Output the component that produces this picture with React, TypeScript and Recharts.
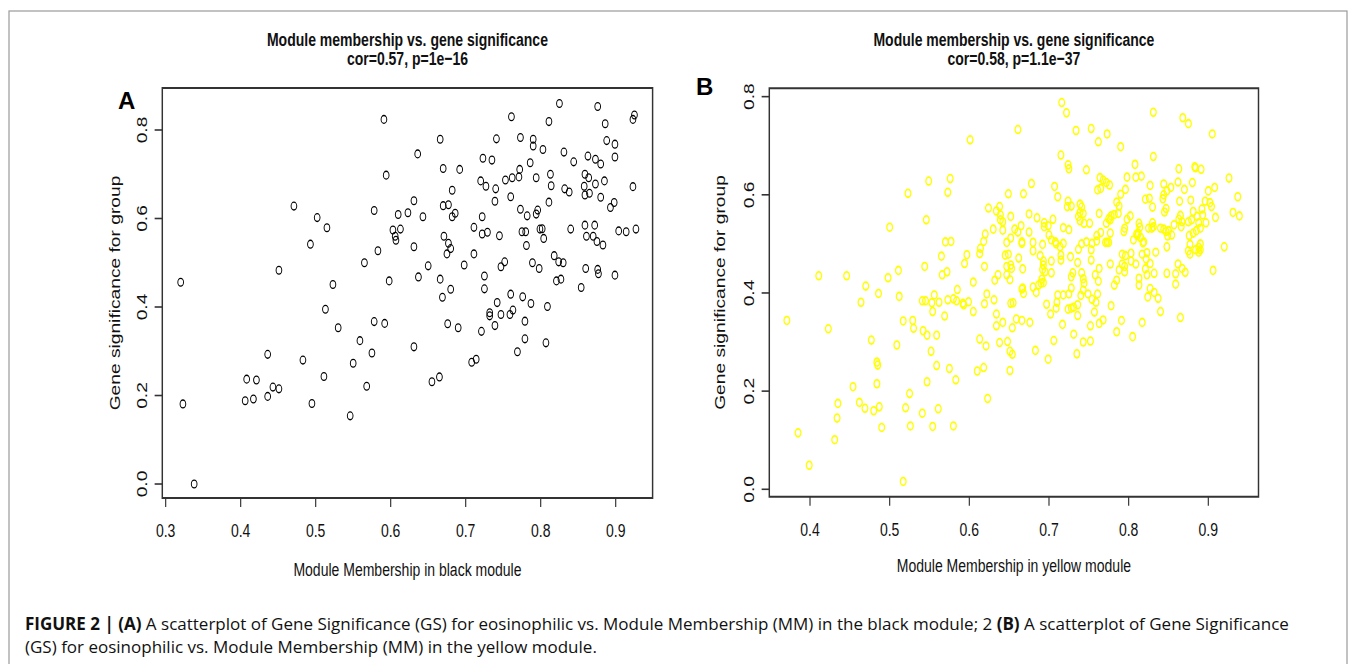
import React from "react";
import { ScatterChart, Scatter, XAxis, YAxis, ReferenceArea } from "recharts";

// the R panels were squeezed sideways when the figure was assembled
const SQ = 0.73;

const xTicksBlack = [0.3, 0.4, 0.5, 0.6, 0.7, 0.8, 0.9];
const xTicksYellow = [0.4, 0.5, 0.6, 0.7, 0.8, 0.9];
const yTicks = [0, 0.2, 0.4, 0.6, 0.8];

// panel A: module membership (black) / gene significance
const blackMM = [
  0.591, 0.594, 0.471, 0.502, 0.515, 0.493, 0.578, 0.583, 0.565, 0.451, 0.32, 0.523,
  0.825, 0.876, 0.761, 0.811, 0.886, 0.923, 0.925, 0.666, 0.741, 0.773, 0.79, 0.79,
  0.803, 0.888, 0.899, 0.636, 0.831, 0.844, 0.863, 0.873, 0.88, 0.899, 0.723, 0.735,
  0.67, 0.692, 0.786, 0.772, 0.72, 0.727, 0.74, 0.753, 0.762, 0.771, 0.794, 0.813,
  0.814, 0.859, 0.864, 0.858, 0.873, 0.885, 0.832, 0.838, 0.859, 0.865, 0.88, 0.923,
  0.682, 0.631, 0.67, 0.677, 0.739, 0.76, 0.811, 0.61, 0.623, 0.643, 0.682, 0.686,
  0.722, 0.773, 0.782, 0.794, 0.796, 0.84, 0.859, 0.872, 0.898, 0.893, 0.904, 0.914,
  0.927, 0.603, 0.606, 0.607, 0.613, 0.671, 0.677, 0.68, 0.675, 0.711, 0.722, 0.729,
  0.745, 0.775, 0.78, 0.799, 0.802, 0.804, 0.861, 0.87, 0.875, 0.883, 0.631, 0.781,
  0.711, 0.818, 0.824, 0.83, 0.65, 0.698, 0.747, 0.752, 0.789, 0.798, 0.86, 0.876,
  0.877, 0.899, 0.598, 0.637, 0.666, 0.725, 0.821, 0.827, 0.854, 0.68, 0.669, 0.725,
  0.742, 0.76, 0.776, 0.787, 0.809, 0.732, 0.732, 0.747, 0.759, 0.763, 0.779, 0.739,
  0.721, 0.592, 0.676, 0.69, 0.779, 0.807, 0.769, 0.631, 0.708, 0.714, 0.655, 0.665,
  0.513, 0.53, 0.578, 0.559, 0.575, 0.55, 0.568, 0.546, 0.511, 0.495, 0.483, 0.436,
  0.408, 0.421, 0.443, 0.451, 0.406, 0.417, 0.436, 0.323, 0.338,
];
const blackGS = [
  0.824, 0.698, 0.628, 0.602, 0.579, 0.542, 0.618, 0.527, 0.5, 0.483, 0.456, 0.451,
  0.86, 0.853, 0.83, 0.819, 0.814, 0.824, 0.834, 0.779, 0.78, 0.783, 0.779, 0.764,
  0.756, 0.776, 0.768, 0.746, 0.75, 0.728, 0.741, 0.734, 0.723, 0.739, 0.736, 0.732,
  0.713, 0.711, 0.726, 0.711, 0.685, 0.673, 0.667, 0.687, 0.692, 0.694, 0.692, 0.7,
  0.674, 0.7, 0.692, 0.673, 0.678, 0.685, 0.667, 0.66, 0.653, 0.657, 0.648, 0.672,
  0.664, 0.64, 0.629, 0.631, 0.639, 0.649, 0.637, 0.609, 0.613, 0.604, 0.604, 0.612,
  0.604, 0.621, 0.606, 0.61, 0.619, 0.576, 0.585, 0.585, 0.636, 0.625, 0.572, 0.57,
  0.576, 0.574, 0.56, 0.551, 0.576, 0.56, 0.544, 0.532, 0.52, 0.58, 0.565, 0.569,
  0.561, 0.57, 0.57, 0.576, 0.577, 0.555, 0.56, 0.56, 0.548, 0.54, 0.536, 0.539,
  0.52, 0.516, 0.502, 0.5, 0.493, 0.495, 0.491, 0.502, 0.5, 0.487, 0.487, 0.485,
  0.475, 0.472, 0.459, 0.468, 0.463, 0.47, 0.459, 0.463, 0.444, 0.44, 0.422, 0.441,
  0.41, 0.429, 0.423, 0.408, 0.401, 0.387, 0.38, 0.383, 0.383, 0.393, 0.368, 0.358,
  0.345, 0.363, 0.362, 0.353, 0.328, 0.319, 0.299, 0.31, 0.275, 0.282, 0.231, 0.242,
  0.395, 0.353, 0.367, 0.324, 0.296, 0.273, 0.221, 0.154, 0.243, 0.182, 0.28, 0.293,
  0.237, 0.235, 0.219, 0.215, 0.188, 0.192, 0.198, 0.181, 0.0,
];

// panel B: module membership (yellow) / gene significance
const yellowMM = [
  0.601, 0.523, 0.549, 0.576, 0.573, 0.5, 0.546, 0.624, 0.634, 0.638, 0.639, 0.63,
  0.57, 0.577, 0.62, 0.618, 0.614, 0.613, 0.565, 0.597, 0.594, 0.619, 0.544, 0.511,
  0.566, 0.572, 0.411, 0.446, 0.498, 0.47, 0.605, 0.632, 0.636, 0.585,
  0.486, 0.512, 0.464, 0.541, 0.545, 0.553, 0.556, 0.562, 0.554, 0.573, 0.58, 0.584,
  0.592, 0.593, 0.599, 0.569, 0.605, 0.619, 0.622, 0.631, 0.634, 0.634, 0.638, 0.371,
  0.423, 0.517, 0.529, 0.53, 0.542, 0.547, 0.559, 0.477, 0.509, 0.552, 0.613, 0.621,
  0.484, 0.485, 0.559, 0.575, 0.61, 0.618, 0.583, 0.547, 0.484, 0.454, 0.525, 0.623,
  0.435, 0.462, 0.469, 0.48, 0.487, 0.52, 0.561, 0.541, 0.434, 0.385, 0.431, 0.49,
  0.526, 0.554, 0.58, 0.399, 0.517,
  0.716, 0.722, 0.661, 0.734, 0.753, 0.773, 0.762, 0.831, 0.868, 0.875, 0.905, 0.79,
  0.715, 0.831, 0.724, 0.725, 0.747, 0.808, 0.863, 0.883, 0.884, 0.891, 0.926, 0.798,
  0.809, 0.816, 0.764, 0.768, 0.772, 0.776, 0.761, 0.765, 0.678, 0.707, 0.711, 0.649,
  0.668, 0.827, 0.844, 0.848, 0.853, 0.844, 0.843, 0.862, 0.88, 0.87, 0.9, 0.908,
  0.937, 0.796, 0.79, 0.821, 0.826, 0.724, 0.723, 0.728, 0.739, 0.741, 0.739, 0.785,
  0.788, 0.83, 0.847, 0.845, 0.864, 0.878, 0.896, 0.902, 0.904, 0.892, 0.881, 0.639,
  0.652, 0.675, 0.685, 0.705, 0.737, 0.743, 0.739, 0.744, 0.763, 0.778, 0.782, 0.787,
  0.775, 0.777, 0.772, 0.798, 0.802, 0.865, 0.863, 0.867, 0.866, 0.875, 0.879, 0.886,
  0.888, 0.893, 0.897, 0.89, 0.885, 0.909, 0.931, 0.939, 0.642, 0.642, 0.657, 0.661,
  0.665, 0.675, 0.694, 0.694, 0.699, 0.718, 0.725, 0.751, 0.777, 0.794, 0.795, 0.813,
  0.814, 0.812, 0.811, 0.83, 0.831, 0.825, 0.829, 0.84, 0.844, 0.847, 0.849, 0.85,
  0.854, 0.857, 0.876, 0.881, 0.647, 0.652, 0.666, 0.666, 0.68, 0.692, 0.7, 0.703,
  0.708, 0.709, 0.714, 0.718, 0.741, 0.747, 0.754, 0.76, 0.76, 0.765, 0.771, 0.773,
  0.775, 0.806, 0.81, 0.815, 0.819, 0.818, 0.848, 0.877, 0.89, 0.888, 0.92, 0.645,
  0.649, 0.662, 0.68, 0.689, 0.693, 0.693, 0.703, 0.715, 0.715, 0.727, 0.737, 0.753,
  0.753, 0.736, 0.792, 0.796, 0.803, 0.834, 0.817, 0.823, 0.822, 0.875, 0.877, 0.884,
  0.888, 0.89, 0.809, 0.803, 0.827, 0.777, 0.792, 0.795, 0.788, 0.795, 0.647, 0.652,
  0.653, 0.647, 0.651, 0.667, 0.692, 0.695, 0.703, 0.73, 0.728, 0.741, 0.743, 0.744,
  0.763, 0.758, 0.762, 0.821, 0.823, 0.832, 0.848, 0.859, 0.862, 0.867, 0.871, 0.906,
  0.813, 0.813, 0.785, 0.782, 0.859, 0.691, 0.693, 0.69, 0.667, 0.68, 0.687,
  0.666, 0.668, 0.684, 0.711, 0.718, 0.725, 0.728, 0.652, 0.655, 0.697, 0.71, 0.709,
  0.724, 0.728, 0.731, 0.736, 0.736, 0.74, 0.743, 0.749, 0.754, 0.759, 0.761, 0.757,
  0.778, 0.642, 0.654, 0.659, 0.666, 0.676, 0.702, 0.717, 0.752, 0.763, 0.768, 0.791,
  0.785, 0.731, 0.805, 0.817, 0.824, 0.827, 0.832, 0.837, 0.84, 0.865, 0.648, 0.651,
  0.654, 0.651, 0.683, 0.699, 0.706, 0.735, 0.743, 0.752,
];
const yellowGS = [
  0.712, 0.603, 0.628, 0.633, 0.605, 0.534, 0.549, 0.573, 0.567, 0.576, 0.549, 0.53,
  0.504, 0.505, 0.52, 0.505, 0.491, 0.48, 0.475, 0.478, 0.46, 0.454, 0.454, 0.446,
  0.437, 0.443, 0.435, 0.435, 0.431, 0.414, 0.422, 0.426, 0.437, 0.407,
  0.399, 0.393, 0.381, 0.384, 0.384, 0.38, 0.396, 0.381, 0.362, 0.386, 0.388, 0.384,
  0.379, 0.376, 0.382, 0.353, 0.362, 0.378, 0.398, 0.386, 0.357, 0.333, 0.299, 0.344,
  0.327, 0.343, 0.344, 0.328, 0.323, 0.314, 0.314, 0.304, 0.294, 0.281, 0.306, 0.292,
  0.259, 0.253, 0.252, 0.246, 0.241, 0.248, 0.223, 0.219, 0.215, 0.209, 0.195, 0.185,
  0.175, 0.177, 0.165, 0.16, 0.168, 0.166, 0.164, 0.155, 0.145, 0.115, 0.101, 0.126,
  0.129, 0.128, 0.129, 0.049, 0.016,
  0.788, 0.767, 0.733, 0.731, 0.735, 0.724, 0.708, 0.768, 0.757, 0.745, 0.724, 0.698,
  0.681, 0.678, 0.661, 0.653, 0.651, 0.662, 0.653, 0.657, 0.655, 0.652, 0.634, 0.636,
  0.636, 0.638, 0.635, 0.63, 0.625, 0.62, 0.61, 0.613, 0.623, 0.617, 0.596, 0.602,
  0.602, 0.619, 0.622, 0.608, 0.615, 0.6, 0.592, 0.626, 0.625, 0.611, 0.608, 0.615,
  0.596, 0.611, 0.601, 0.591, 0.593, 0.587, 0.576, 0.577, 0.581, 0.575, 0.564, 0.585,
  0.577, 0.575, 0.572, 0.565, 0.587, 0.589, 0.587, 0.584, 0.576, 0.571, 0.566, 0.559,
  0.556, 0.561, 0.553, 0.55, 0.556, 0.562, 0.547, 0.542, 0.562, 0.557, 0.56, 0.562,
  0.551, 0.549, 0.542, 0.55, 0.557, 0.558, 0.55, 0.545, 0.535, 0.545, 0.549, 0.556,
  0.543, 0.559, 0.543, 0.532, 0.527, 0.554, 0.564, 0.557, 0.545, 0.528, 0.53, 0.524,
  0.537, 0.524, 0.543, 0.535, 0.537, 0.533, 0.529, 0.542, 0.522, 0.525, 0.532, 0.542,
  0.534, 0.522, 0.517, 0.543, 0.535, 0.532, 0.532, 0.532, 0.53, 0.525, 0.516, 0.527,
  0.518, 0.539, 0.517, 0.522, 0.503, 0.512, 0.504, 0.501, 0.503, 0.499, 0.518, 0.508,
  0.504, 0.5, 0.494, 0.501, 0.5, 0.504, 0.501, 0.506, 0.517, 0.523, 0.503, 0.503,
  0.503, 0.508, 0.52, 0.513, 0.504, 0.502, 0.494, 0.499, 0.5, 0.493, 0.494, 0.477,
  0.479, 0.471, 0.486, 0.476, 0.465, 0.457, 0.465, 0.477, 0.467, 0.474, 0.489, 0.488,
  0.467, 0.462, 0.479, 0.476, 0.481, 0.483, 0.479, 0.482, 0.469, 0.486, 0.479, 0.488,
  0.483, 0.488, 0.459, 0.465, 0.46, 0.459, 0.459, 0.454, 0.447, 0.443, 0.454, 0.457,
  0.45, 0.437, 0.427, 0.449, 0.448, 0.443, 0.441, 0.441, 0.433, 0.441, 0.429, 0.42,
  0.45, 0.437, 0.424, 0.449, 0.437, 0.44, 0.44, 0.439, 0.459, 0.45, 0.442, 0.446,
  0.43, 0.416, 0.426, 0.416, 0.418, 0.428, 0.421, 0.42, 0.41, 0.412, 0.416,
  0.408, 0.399, 0.401, 0.396, 0.396, 0.398, 0.41, 0.379, 0.38, 0.377, 0.381, 0.369,
  0.367, 0.369, 0.371, 0.376, 0.354, 0.395, 0.406, 0.398, 0.387, 0.381, 0.398, 0.361,
  0.374, 0.34, 0.329, 0.347, 0.344, 0.34, 0.357, 0.336, 0.333, 0.338, 0.345, 0.344,
  0.321, 0.316, 0.311, 0.34, 0.392, 0.409, 0.401, 0.389, 0.362, 0.35, 0.301, 0.281,
  0.275, 0.242, 0.283, 0.265, 0.303, 0.276, 0.3, 0.302,
];

const R_FONT = "'Liberation Sans', Arial, Helvetica, sans-serif";
const R_SIZE = 19.2;

type Box = { l: number; r: number; t: number; b: number };

interface PanelProps {
  left: number; // screen px
  width: number; // screen px
  box: Box; // screen px
  xDomain: [number, number];
  yDomain: [number, number];
  xTicks: number[];
  mm: number[];
  gs: number[];
  color: string;
  strokeWidth: number;
  title: string;
  subtitle: string;
  xLabel: string;
  yLabelCenter: number; // screen x of the rotated y title
  xLabelCenter: number; // screen y of the x title
}

const H = 620;
const YW = 40;
const XH = 40;

function Panel(p: PanelProps) {
  const data = p.mm.map((x, i) => ({ x, y: p.gs[i] }));
  // screen x -> unsqueezed x inside the panel
  const ux = (sx: number) => (sx - p.left) / SQ;
  const W = p.width / SQ;
  const bl = ux(p.box.l);
  const br = ux(p.box.r);
  const cx = (bl + br) / 2;
  const cy = (p.box.t + p.box.b) / 2;
  const yTickX = bl - 21.5;
  const yTitleX = ux(p.yLabelCenter) + 5.8;
  return (
    <div
      style={{
        position: "absolute",
        left: p.left,
        top: 0,
        width: W,
        height: H,
        transform: `scaleX(${SQ})`,
        transformOrigin: "0 0",
      }}
    >
      <ScatterChart
        width={W}
        height={H}
        margin={{
          top: p.box.t,
          right: W - br,
          bottom: H - p.box.b - XH,
          left: bl - YW,
        }}
      >
        <XAxis
          type="number"
          dataKey="x"
          domain={p.xDomain}
          ticks={p.xTicks}
          allowDataOverflow
          height={XH}
          axisLine={false}
          tickSize={9}
          tickLine={{ stroke: "#333", strokeWidth: 1.6 }}
          tick={(t: any) => (
            <text
              x={t.x}
              y={p.box.b + 38.9}
              textAnchor="middle"
              fontFamily={R_FONT}
              fontSize={R_SIZE}
              fill="#111"
            >
              {Number(t.payload.value).toFixed(1)}
            </text>
          )}
        />
        <YAxis
          type="number"
          dataKey="y"
          domain={p.yDomain}
          ticks={yTicks}
          allowDataOverflow
          width={YW}
          axisLine={false}
          tickSize={10.5}
          tickLine={{ stroke: "#333", strokeWidth: 1.6 }}
          tick={(t: any) => (
            <text
              x={yTickX}
              y={t.y}
              transform={`rotate(-90 ${yTickX} ${t.y})`}
              textAnchor="middle"
              fontFamily={R_FONT}
              fontSize={R_SIZE}
              fill="#111"
            >
              {Number(t.payload.value).toFixed(1)}
            </text>
          )}
        />
        <Scatter
          data={data}
          isAnimationActive={false}
          shape={(s: any) => (
            <circle
              cx={s.cx}
              cy={s.cy}
              r={3.9}
              fill="none"
              stroke={p.color}
              strokeWidth={p.strokeWidth}
            />
          )}
        />
        <ReferenceArea
          x1={p.xDomain[0]}
          x2={p.xDomain[1]}
          y1={p.yDomain[0]}
          y2={p.yDomain[1]}
          fill="none"
          stroke="#333"
          strokeWidth={2}
          ifOverflow="visible"
        />
      </ScatterChart>
      <svg
        width={W}
        height={H}
        style={{ position: "absolute", left: 0, top: 0, pointerEvents: "none" }}
      >
        <g fontFamily={R_FONT} fill="#111" textAnchor="middle" fontSize={R_SIZE}>
          <text x={cx} y={45.9} fontWeight="bold">
            {p.title}
          </text>
          <text x={cx} y={65.2} fontWeight="bold">
            {p.subtitle}
          </text>
          <text x={cx} y={p.xLabelCenter + 5.8}>
            {p.xLabel}
          </text>
          <text x={yTitleX} y={cy} transform={`rotate(-90 ${yTitleX} ${cy})`}>
            Gene significance for group
          </text>
        </g>
      </svg>
    </div>
  );
}

const CAPTION_FONT = "'Open Sans', 'Noto Sans', sans-serif";

export default function App() {
  return (
    <div
      style={{
        position: "absolute",
        left: 0,
        top: 0,
        width: 1355,
        height: 664,
        background: "#fff",
        overflow: "hidden",
      }}
    >
      <Panel
        left={0}
        width={680}
        box={{ l: 162.3, r: 652.6, t: 88, b: 498 }}
        xDomain={[0.2955, 0.9492]}
        yDomain={[-0.0316, 0.8949]}
        xTicks={xTicksBlack}
        mm={blackMM}
        gs={blackGS}
        color="#000"
        strokeWidth={1.3}
        title="Module membership vs. gene significance"
        subtitle={"cor=0.57, p=1e\u221216"}
        xLabel="Module Membership in black module"
        yLabelCenter={116}
        xLabelCenter={570}
      />
      <Panel
        left={680}
        width={675}
        box={{ l: 769.3, r: 1258.5, t: 88.3, b: 496.7 }}
        xDomain={[0.3489, 0.963]}
        yDomain={[-0.0151, 0.817]}
        xTicks={xTicksYellow}
        mm={yellowMM}
        gs={yellowGS}
        color="#ffff00"
        strokeWidth={1.8}
        title="Module membership vs. gene significance"
        subtitle={"cor=0.58, p=1.1e\u221237"}
        xLabel="Module Membership in yellow module"
        yLabelCenter={721}
        xLabelCenter={566}
      />
      <svg
        width={1355}
        height={664}
        style={{ position: "absolute", left: 0, top: 0, pointerEvents: "none" }}
      >
        <rect x={9} y={11} width={1338} height={700} fill="none" stroke="#9a9a9a" strokeWidth={1.2} />
        <g fontFamily={R_FONT} fontWeight="bold" fontSize={24} fill="#000">
          <text x={118} y={109}>A</text>
          <text x={696} y={95}>B</text>
        </g>
        <g fontFamily={CAPTION_FONT} fontSize={17} fill="#111">
          <text x={25} y={630}>
            <tspan fontWeight="bold">FIGURE 2 | (A)</tspan>
            <tspan> A scatterplot of Gene Significance (GS) for eosinophilic vs. Module Membership (MM) in the black module; 2 </tspan>
            <tspan fontWeight="bold">(B)</tspan>
            <tspan> A scatterplot of Gene Significance</tspan>
          </text>
          <text x={25} y={653}>
            (GS) for eosinophilic vs. Module Membership (MM) in the yellow module.
          </text>
        </g>
      </svg>
    </div>
  );
}
